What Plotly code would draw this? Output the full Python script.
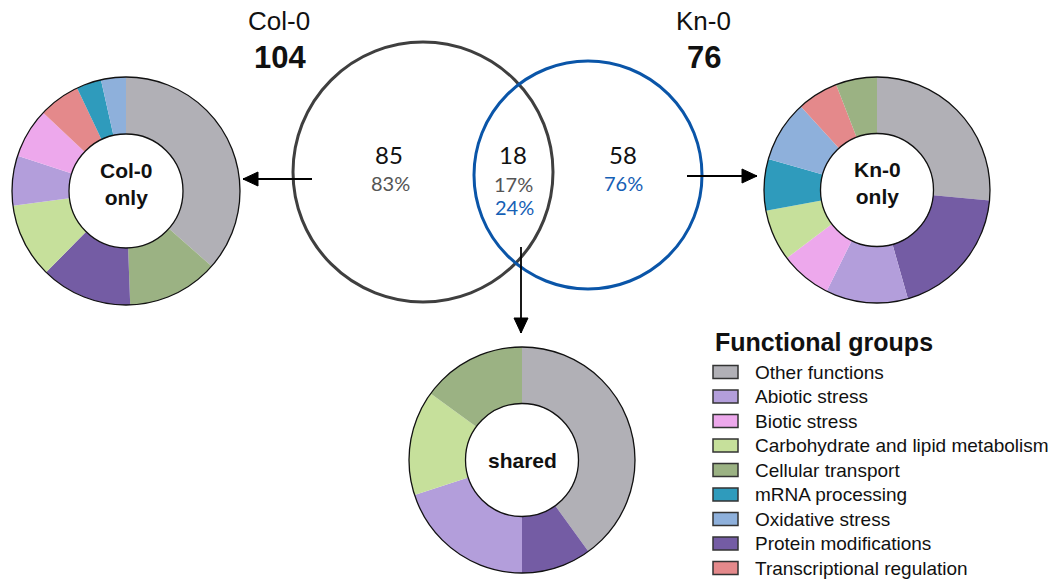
import plotly.graph_objects as go

# Functional group categories (legend order) and their colours
groups = [
    "Other functions", "Abiotic stress", "Biotic stress",
    "Carbohydrate and lipid metabolism", "Cellular transport",
    "mRNA processing", "Oxidative stress", "Protein modifications",
    "Transcriptional regulation",
]
group_colors = {
    "Other functions": "#B1B0B6",
    "Abiotic stress": "#B39EDB",
    "Biotic stress": "#EDA8EC",
    "Carbohydrate and lipid metabolism": "#C6E09B",
    "Cellular transport": "#9BB283",
    "mRNA processing": "#2F9BBC",
    "Oxidative stress": "#8EB0DB",
    "Protein modifications": "#745CA4",
    "Transcriptional regulation": "#E4898B",
}

# Venn counts
col0_total, kn0_total = 104, 76
col0_only, shared_n, kn0_only = 85, 18, 58
col0_only_pct, shared_col0_pct = "83%", "17%"
shared_kn0_pct, kn0_only_pct = "24%", "76%"

# Donut compositions (clockwise from 12 o'clock)
col0_labels = ["Other functions", "Cellular transport", "Protein modifications",
               "Carbohydrate and lipid metabolism", "Abiotic stress", "Biotic stress",
               "Transcriptional regulation", "mRNA processing", "Oxidative stress"]
col0_values = [31, 11, 11, 9, 6, 6, 5, 3, 3]

kn0_labels = ["Other functions", "Protein modifications", "Abiotic stress",
              "Biotic stress", "Carbohydrate and lipid metabolism", "mRNA processing",
              "Oxidative stress", "Transcriptional regulation", "Cellular transport"]
kn0_values = [18, 13, 8, 5, 5, 5, 6, 4, 4]

shared_labels = ["Other functions", "Protein modifications", "Abiotic stress",
                 "Carbohydrate and lipid metabolism", "Cellular transport"]
shared_values = [8, 2, 4, 3, 3]

W, H = 1051, 581
SANS = "Liberation Sans, Arial, sans-serif"
NUM = "Lato, Open Sans, sans-serif"

fig = go.Figure()
shapes = []
annotations = []


def donut(labels, values, cx, cy, r, title, title_dy=0):
    fig.add_trace(go.Pie(
        labels=labels, values=values,
        marker=dict(colors=[group_colors[l] for l in labels], line=dict(width=0)),
        hole=0.5, sort=False, direction="clockwise", rotation=0,
        textinfo="none", hoverinfo="label+value", showlegend=False,
        domain=dict(x=[(cx - r) / W, (cx + r) / W],
                    y=[1 - (cy + r) / H, 1 - (cy - r) / H]),
    ))
    for rr in (r, r * 0.5):
        shapes.append(dict(type="circle", xref="x", yref="y", layer="above",
                           x0=cx - rr, x1=cx + rr, y0=cy - rr, y1=cy + rr,
                           line=dict(color="#111111", width=1.3)))
    annotations.append(dict(x=cx, y=cy + title_dy, xref="x", yref="y", text=title,
                            showarrow=False,
                            font=dict(family=SANS, size=21, color="#111111"),
                            xanchor="center", yanchor="middle"))


donut(col0_labels, col0_values, 126, 191, 114, "<b>Col-0<br>only</b>", -7)
donut(kn0_labels, kn0_values, 877, 190, 113, "<b>Kn-0<br>only</b>", -7)
donut(shared_labels, shared_values, 522, 460, 113, "<b>shared</b>")

# Venn circles
shapes.append(dict(type="circle", xref="x", yref="y", x0=293, x1=553, y0=42, y1=302,
                   line=dict(color="#3F3F3F", width=3)))
shapes.append(dict(type="circle", xref="x", yref="y", x0=474, x1=702, y0=61, y1=289,
                   line=dict(color="#0A55A8", width=3)))


def arrow(x0, y0, x1, y1):
    shapes.append(dict(type="line", xref="x", yref="y", x0=x0, y0=y0, x1=x1, y1=y1,
                       line=dict(color="#000000", width=1.8)))
    L, hw = 15, 7
    if y0 == y1:
        s = 1 if x1 > x0 else -1
        path = f"M{x1},{y1} L{x1 - s * L},{y1 - hw} L{x1 - s * L},{y1 + hw} Z"
    else:
        path = f"M{x1},{y1} L{x1 - hw},{y1 - L} L{x1 + hw},{y1 - L} Z"
    shapes.append(dict(type="path", xref="x", yref="y", path=path,
                       fillcolor="#000000", line=dict(color="#000000", width=1)))


arrow(312, 179, 243, 179)
arrow(687, 176, 757, 176)
arrow(521, 247, 521, 333)


def label(x, y, text, size, color="#111111", family=SANS, xanchor="center"):
    annotations.append(dict(x=x, y=y, xref="x", yref="y", text=text, showarrow=False,
                            font=dict(family=family, size=size, color=color),
                            xanchor=xanchor, yanchor="middle"))


label(279, 21, "Col-0", 26)
label(280, 57, f"<b>{col0_total}</b>", 31)
label(703, 21, "Kn-0", 26)
label(704, 57, f"<b>{kn0_total}</b>", 31)

label(389, 154, str(col0_only), 24, family=NUM)
label(390, 183, col0_only_pct, 20, color="#555555", family=NUM)
label(513, 154, str(shared_n), 24, family=NUM)
label(513, 184, shared_col0_pct, 20, color="#555555", family=NUM)
label(514, 207, shared_kn0_pct, 20, color="#1560B5", family=NUM)
label(623, 154, str(kn0_only), 24, family=NUM)
label(623, 183, kn0_only_pct, 20, color="#1560B5", family=NUM)

# Legend of functional groups
label(713, 342, "<b>Functional groups</b>", 25, xanchor="left")
for i, g in enumerate(groups):
    yc = 372 + i * 24.5
    shapes.append(dict(type="rect", xref="x", yref="y", x0=713, x1=738,
                       y0=yc - 6.5, y1=yc + 6.5, fillcolor=group_colors[g],
                       line=dict(color="#333333", width=1.5)))
    label(753, yc, g, 19, xanchor="left")

fig.update_layout(
    width=W, height=H, margin=dict(l=0, r=0, t=0, b=0),
    paper_bgcolor="white", plot_bgcolor="white",
    xaxis=dict(range=[0, W], visible=False, fixedrange=True),
    yaxis=dict(range=[H, 0], visible=False, fixedrange=True),
    shapes=shapes, annotations=annotations,
)

fig.write_html("out.html")
